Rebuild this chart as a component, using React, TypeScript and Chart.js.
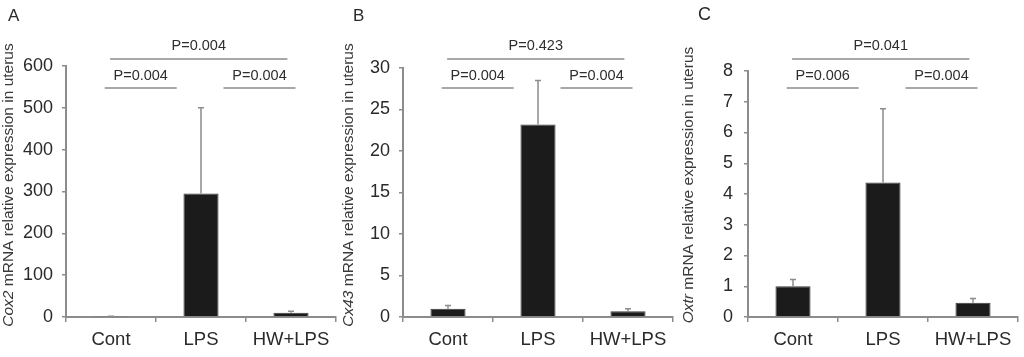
import React, { useEffect, useRef } from "react";
import { Chart, registerables } from "chart.js";

Chart.register(...registerables);

// ---------- DATA ----------
const categories = ["Cont", "LPS", "HW+LPS"];

const geneNames = ["Cox2", "Cx43", "Oxtr"];
const panelLetters = ["A", "B", "C"];

const cox2Values = [1, 295, 10];
const cox2Errors = [0.5, 205, 4];

const cx43Values = [1.0, 23.2, 0.68];
const cx43Errors = [0.4, 5.3, 0.3];

const oxtrValues = [1.0, 4.37, 0.46];
const oxtrErrors = [0.22, 2.4, 0.14];

// [Cont vs HW+LPS, Cont vs LPS, LPS vs HW+LPS]
const cox2PValues = ["P=0.004", "P=0.004", "P=0.004"];
const cx43PValues = ["P=0.423", "P=0.004", "P=0.004"];
const oxtrPValues = ["P=0.041", "P=0.006", "P=0.004"];

const yMaxValues = [600, 30, 8];
const yStepValues = [100, 5, 1];

const titleRest = " mRNA relative expression in uterus";

// ---------- STYLE / LAYOUT ----------
const FONT = "Arial, 'Liberation Sans', Helvetica, sans-serif";

const panelLayouts = [
  { left: 0, width: 340, axisLeft: 66, axisRight: 336, top: 66, titleX: 9, letterX: 8, letterY: 16, letterSize: 17, tickPad: 9 },
  { left: 340, width: 340, axisLeft: 63, axisRight: 333, top: 68, titleX: 9, letterX: 13, letterY: 16, letterSize: 17, tickPad: 9 },
  { left: 680, width: 344, axisLeft: 68, axisRight: 338, top: 71, titleX: 9, letterX: 18, letterY: 15, letterSize: 18, tickPad: 11 },
];
const CANVAS_H = 357;
const ZERO_Y = 317;

// bracket spans in category units (index-based)
const bracketSpans = [
  { from: -0.01, to: 1.96, lineY: 59, textY: 46 },
  { from: -0.07, to: 0.73, lineY: 88, textY: 76 },
  { from: 1.25, to: 2.05, lineY: 88, textY: 76 },
];

type PanelProps = {
  idx: number;
  values: number[];
  errors: number[];
  pvalues: string[];
};

function Panel({ idx, values, errors, pvalues }: PanelProps) {
  const ref = useRef<HTMLCanvasElement | null>(null);
  const L = panelLayouts[idx];

  useEffect(() => {
    if (!ref.current) return;
    const overlay = {
      id: "overlay" + idx,
      afterDatasetsDraw(chart: any) {
        const ctx = chart.ctx as CanvasRenderingContext2D;
        const ys = chart.scales.y;
        const meta = chart.getDatasetMeta(0);
        ctx.save();
        ctx.strokeStyle = "#8c8c8c";
        ctx.lineWidth = 1.5;
        meta.data.forEach((bar: any, i: number) => {
          const yb = ys.getPixelForValue(values[i]);
          const yt = ys.getPixelForValue(values[i] + errors[i]);
          ctx.beginPath();
          ctx.moveTo(bar.x, yb);
          ctx.lineTo(bar.x, yt);
          ctx.moveTo(bar.x - 3, yt);
          ctx.lineTo(bar.x + 3, yt);
          ctx.stroke();
        });
        ctx.restore();
      },
      afterDraw(chart: any) {
        const ctx = chart.ctx as CanvasRenderingContext2D;
        const xs = chart.scales.x;
        ctx.save();
        bracketSpans.forEach((b, i) => {
          const x1 = xs.getPixelForValue(b.from);
          const x2 = xs.getPixelForValue(b.to);
          ctx.strokeStyle = "#a8a8a8";
          ctx.lineWidth = 2;
          ctx.beginPath();
          ctx.moveTo(x1, b.lineY);
          ctx.lineTo(x2, b.lineY);
          ctx.stroke();
          ctx.fillStyle = "#2e2e2e";
          ctx.font = `14.5px ${FONT}`;
          ctx.textAlign = "center";
          ctx.textBaseline = "middle";
          ctx.fillText(pvalues[i], (x1 + x2) / 2, b.textY);
        });
        ctx.translate(L.titleX, 185);
        ctx.rotate(-Math.PI / 2);
        ctx.textBaseline = "middle";
        ctx.textAlign = "left";
        ctx.fillStyle = "#3a3a3a";
        ctx.font = `italic 15.5px ${FONT}`;
        const w1 = ctx.measureText(geneNames[idx]).width;
        ctx.font = `15.5px ${FONT}`;
        const w2 = ctx.measureText(titleRest).width;
        const start = -(w1 + w2) / 2;
        ctx.font = `italic 15.5px ${FONT}`;
        ctx.fillText(geneNames[idx], start, 0);
        ctx.font = `15.5px ${FONT}`;
        ctx.fillText(titleRest, start + w1, 0);
        ctx.restore();
        ctx.save();
        ctx.fillStyle = "#2a2a2a";
        ctx.font = `${L.letterSize}px ${FONT}`;
        ctx.textBaseline = "middle";
        ctx.textAlign = "left";
        ctx.fillText(panelLetters[idx], L.letterX, L.letterY);
        ctx.restore();
      },
    };

    const chart = new Chart(ref.current, {
      type: "bar",
      data: {
        labels: categories,
        datasets: [
          {
            data: values,
            backgroundColor: "#1b1b1b",
            borderColor: "#3c3c3c",
            borderWidth: 1,
            barPercentage: 0.39,
            categoryPercentage: 1,
          },
        ],
      },
      options: {
        responsive: false,
        animation: false,
        events: [],
        layout: {
          padding: { left: 0, right: L.width - L.axisRight, top: L.top, bottom: 0 },
        },
        plugins: { legend: { display: false }, tooltip: { enabled: false } },
        scales: {
          x: {
            offset: true,
            grid: {
              display: true,
              drawOnChartArea: false,
              offset: true,
              tickLength: 5,
              color: "#8c8c8c",
              lineWidth: 1.5,
            },
            border: { color: "#8c8c8c", width: 2 },
            ticks: {
              color: "#2a2a2a",
              font: { family: FONT, size: 18.5 },
              padding: 7,
            },
            afterFit: (s: any) => {
              s.height = CANVAS_H - ZERO_Y;
            },
          },
          y: {
            min: 0,
            max: yMaxValues[idx],
            grid: {
              display: true,
              drawOnChartArea: false,
              tickLength: 4,
              color: "#8c8c8c",
              lineWidth: 1.5,
            },
            border: { color: "#8c8c8c", width: 2 },
            ticks: {
              stepSize: yStepValues[idx],
              color: "#2a2a2a",
              font: { family: FONT, size: 18 },
              padding: L.tickPad,
            },
            afterFit: (s: any) => {
              s.width = L.axisLeft;
            },
          },
        },
      },
      plugins: [overlay],
    } as any);
    return () => chart.destroy();
  }, []);

  return (
    <canvas
      ref={ref}
      width={L.width}
      height={CANVAS_H}
      style={{ position: "absolute", left: L.left, top: 0, width: L.width, height: CANVAS_H }}
    />
  );
}

export default function App() {
  return (
    <div
      style={{
        position: "fixed",
        left: 0,
        top: 0,
        width: 1024,
        height: CANVAS_H,
        background: "#fff",
        overflow: "hidden",
      }}
    >
      <Panel idx={0} values={cox2Values} errors={cox2Errors} pvalues={cox2PValues} />
      <Panel idx={1} values={cx43Values} errors={cx43Errors} pvalues={cx43PValues} />
      <Panel idx={2} values={oxtrValues} errors={oxtrErrors} pvalues={oxtrPValues} />
    </div>
  );
}
